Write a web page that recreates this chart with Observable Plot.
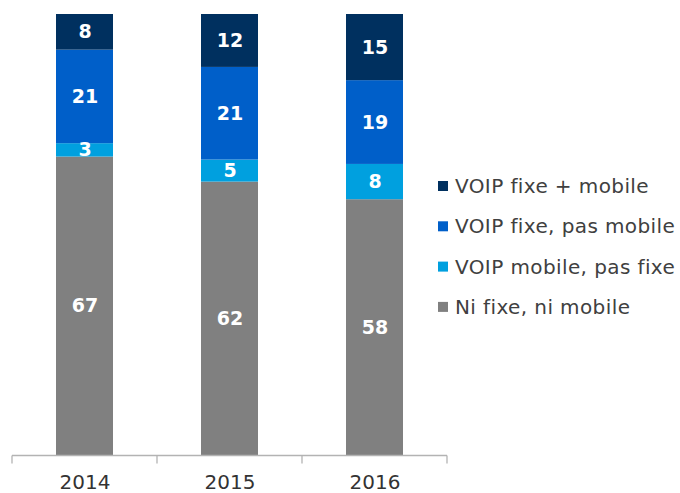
<!DOCTYPE html>
<html>
<head>
<meta charset="utf-8">
<script src="https://cdn.jsdelivr.net/npm/d3@7"></script>
<script src="https://cdn.jsdelivr.net/npm/@observablehq/plot@0.6"></script>
<style>
  html, body { margin: 0; padding: 0; background: #fff; }
  #chart svg { display: block; }
</style>
</head>
<body>
<div id="chart"></div>
<script>
// Data
const years = ["2014", "2015", "2016"];
// series listed bottom-to-top in the stack
const seriesNames = ["Ni fixe, ni mobile", "VOIP mobile, pas fixe", "VOIP fixe, pas mobile", "VOIP fixe + mobile"];
const niFixeNiMobile = [67, 62, 58];
const voipMobilePasFixe = [3, 5, 8];
const voipFixePasMobile = [21, 21, 19];
const voipFixeMobile = [8, 12, 15];
const seriesColors = ["#808080", "#00A0DF", "#005FC9", "#00305F"];
// legend order (top to bottom)
const legendOrder = ["VOIP fixe + mobile", "VOIP fixe, pas mobile", "VOIP mobile, pas fixe", "Ni fixe, ni mobile"];

const seriesValues = [niFixeNiMobile, voipMobilePasFixe, voipFixePasMobile, voipFixeMobile];
const rows = [];
seriesNames.forEach((s, si) => {
  years.forEach((yr, yi) => rows.push({year: yr, series: s, value: seriesValues[si][yi]}));
});

const font = "DejaVu Sans, Verdana, sans-serif";
const axisColor = "#b3b3b3";

const stackOpts = {x: "year", y: "value", z: "series", order: seriesNames, offset: "normalize"};

// boundary ticks on the category axis + baseline
function axisTicks(index, scales, values, dimensions) {
  const x = scales.x;
  const {width, height, marginLeft, marginRight, marginBottom} = dimensions;
  const n = years.length;
  const step = (width - marginLeft - marginRight) / n;
  const y0 = height - marginBottom + 0.5;
  const g = d3.create("svg:g").attr("stroke", axisColor).attr("stroke-width", 1.3).attr("fill", "none");
  g.append("line").attr("x1", marginLeft).attr("x2", width - marginRight).attr("y1", y0).attr("y2", y0);
  const bw = typeof x.bandwidth === "function" ? x.bandwidth() : 0;
  const bounds = years.map(yr => x(yr) + bw / 2 - step / 2);
  bounds.push(x(years[n - 1]) + bw / 2 + step / 2);
  for (const b of bounds) {
    g.append("line").attr("x1", b).attr("x2", b).attr("y1", y0).attr("y2", y0 + 8);
  }
  return g.node();
}

function legend(index, scales, values, dimensions) {
  const {width, marginRight} = dimensions;
  const x0 = width - marginRight - 9;
  const g = d3.create("svg:g").attr("font-family", font).attr("font-size", 20)
    .attr("fill", "#404040").attr("text-anchor", "start");
  legendOrder.forEach((name, i) => {
    const cy = 186 + i * 40.3;
    const color = seriesColors[seriesNames.indexOf(name)];
    g.append("rect").attr("x", x0).attr("y", cy - 5).attr("width", 10).attr("height", 10).attr("fill", color);
    g.append("text").attr("x", x0 + 17).attr("y", cy).attr("dy", "0.35em")
      .attr("text-anchor", "start").attr("letter-spacing", "0.4px").text(name);
  });
  return g.node();
}

const chart = Plot.plot({
  width: 680,
  height: 493,
  marginLeft: 12,
  marginRight: 233,
  marginTop: 14,
  marginBottom: 38,
  style: {fontFamily: font, background: "#fff"},
  x: {domain: years, paddingInner: 0.607, paddingOuter: 0.3035, label: null},
  y: {domain: [0, 1], axis: null},
  color: {domain: seriesNames, range: seriesColors},
  marks: [
    Plot.barY(rows, {...stackOpts, fill: "series"}),
    Plot.text(rows, Plot.stackY({...stackOpts, text: "value", fill: "white", fontWeight: "bold", fontSize: 19})),
    axisTicks,
    Plot.axisX({tickSize: 0, tickPadding: 19, fontSize: 20, fill: "#333", label: null}),
    legend
  ]
});
document.getElementById("chart").appendChild(chart);
</script>
</body>
</html>
